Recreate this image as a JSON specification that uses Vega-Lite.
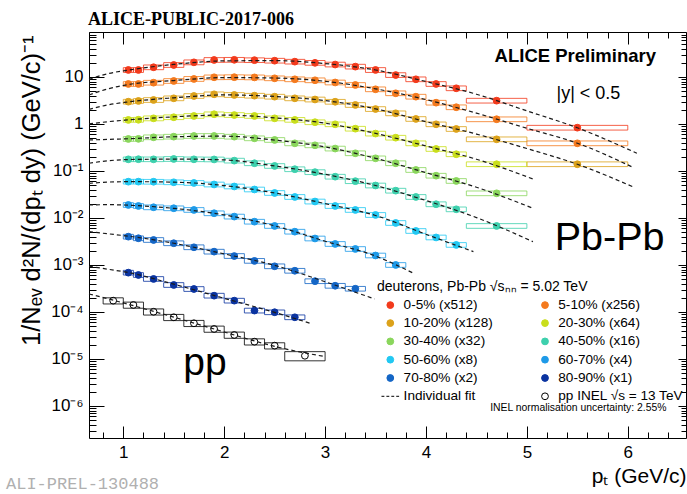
{
  "$schema": "https://vega.github.io/schema/vega-lite/v6.json",
  "width": 597,
  "height": 406,
  "autosize": {"type": "none"},
  "padding": {"left": 89, "top": 32, "right": 1, "bottom": 56},
  "background": "white",
  "title": {"text": "ALICE-PUBLIC-2017-006", "anchor": "start", "frame": "group", "font": "Liberation Serif", "fontSize": 18, "fontWeight": "bold", "color": "black", "offset": 3, "dx": -1},
  "config": {
    "view": {"stroke": "black", "strokeWidth": 1},
    "axis": {"grid": false, "domain": false, "tickColor": "black", "tickWidth": 1, "labelColor": "black", "labelFont": "Liberation Sans", "titleFont": "Liberation Sans", "titleColor": "black", "titleFontWeight": "normal", "labelOverlap": false, "labelFlush": false, "labelBound": false},
    "legend": {"orient": "none", "legendX": 288, "legendY": 248, "direction": "horizontal", "columns": 2, "columnPadding": 38.7, "rowPadding": 3.3, "padding": 0,
               "labelFont": "Liberation Sans", "labelFontSize": 13.6, "labelColor": "black", "titleFont": "Liberation Sans", "titleFontSize": 14, "titleFontWeight": "normal", "titleColor": "black", "titlePadding": 4,
               "titleLimit": 400, "labelLimit": 300, "symbolSize": 46, "symbolStrokeWidth": 1, "symbolOffset": 6.5, "labelOffset": 6.5},
    "text": {"font": "Liberation Sans", "color": "black"}
  },
  "datasets": {
    "pts": [
      {"c":"0-5% (x512)","pt":1.05,"x0":1.0,"x1":1.1,"v":14.1,"lo":12.5,"hi":15.8},
      {"c":"0-5% (x512)","pt":1.15,"x0":1.1,"x1":1.2,"v":14.1,"lo":12.5,"hi":15.8},
      {"c":"0-5% (x512)","pt":1.3,"x0":1.2,"x1":1.4,"v":16.1,"lo":14.3,"hi":18.0},
      {"c":"0-5% (x512)","pt":1.5,"x0":1.4,"x1":1.6,"v":18.0,"lo":16.0,"hi":20.2},
      {"c":"0-5% (x512)","pt":1.7,"x0":1.6,"x1":1.8,"v":20.5,"lo":18.2,"hi":23.0},
      {"c":"0-5% (x512)","pt":1.9,"x0":1.8,"x1":2.0,"v":23.0,"lo":20.5,"hi":25.8},
      {"c":"0-5% (x512)","pt":2.1,"x0":2.0,"x1":2.2,"v":23.2,"lo":20.6,"hi":26.0},
      {"c":"0-5% (x512)","pt":2.3,"x0":2.2,"x1":2.4,"v":22.8,"lo":20.3,"hi":25.5},
      {"c":"0-5% (x512)","pt":2.5,"x0":2.4,"x1":2.6,"v":22.2,"lo":19.8,"hi":24.9},
      {"c":"0-5% (x512)","pt":2.7,"x0":2.6,"x1":2.8,"v":21.2,"lo":18.9,"hi":23.7},
      {"c":"0-5% (x512)","pt":2.9,"x0":2.8,"x1":3.0,"v":20.0,"lo":17.8,"hi":22.4},
      {"c":"0-5% (x512)","pt":3.1,"x0":3.0,"x1":3.2,"v":18.4,"lo":16.4,"hi":20.6},
      {"c":"0-5% (x512)","pt":3.3,"x0":3.2,"x1":3.4,"v":16.6,"lo":14.8,"hi":18.6},
      {"c":"0-5% (x512)","pt":3.5,"x0":3.4,"x1":3.6,"v":14.1,"lo":12.5,"hi":15.8},
      {"c":"0-5% (x512)","pt":3.7,"x0":3.6,"x1":3.8,"v":11.0,"lo":9.79,"hi":12.3},
      {"c":"0-5% (x512)","pt":3.9,"x0":3.8,"x1":4.0,"v":8.93,"lo":7.95,"hi":10.0},
      {"c":"0-5% (x512)","pt":4.1,"x0":4.0,"x1":4.2,"v":7.10,"lo":6.32,"hi":7.95},
      {"c":"0-5% (x512)","pt":4.3,"x0":4.2,"x1":4.4,"v":5.75,"lo":5.12,"hi":6.44},
      {"c":"0-5% (x512)","pt":4.7,"x0":4.4,"x1":5.0,"v":3.13,"lo":2.79,"hi":3.51},
      {"c":"0-5% (x512)","pt":5.5,"x0":5.0,"x1":6.0,"v":0.834,"lo":0.742,"hi":0.934},

      {"c":"5-10% (x256)","pt":1.05,"x0":1.0,"x1":1.1,"v":7.10,"lo":6.32,"hi":7.95},
      {"c":"5-10% (x256)","pt":1.15,"x0":1.1,"x1":1.2,"v":7.10,"lo":6.32,"hi":7.95},
      {"c":"5-10% (x256)","pt":1.3,"x0":1.2,"x1":1.4,"v":7.56,"lo":6.73,"hi":8.47},
      {"c":"5-10% (x256)","pt":1.5,"x0":1.4,"x1":1.6,"v":8.22,"lo":7.32,"hi":9.21},
      {"c":"5-10% (x256)","pt":1.7,"x0":1.6,"x1":1.8,"v":9.07,"lo":8.07,"hi":10.2},
      {"c":"5-10% (x256)","pt":1.9,"x0":1.8,"x1":2.0,"v":9.86,"lo":8.78,"hi":11.0},
      {"c":"5-10% (x256)","pt":2.1,"x0":2.0,"x1":2.2,"v":9.90,"lo":8.81,"hi":11.1},
      {"c":"5-10% (x256)","pt":2.3,"x0":2.2,"x1":2.4,"v":9.80,"lo":8.72,"hi":11.0},
      {"c":"5-10% (x256)","pt":2.5,"x0":2.4,"x1":2.6,"v":9.38,"lo":8.35,"hi":10.5},
      {"c":"5-10% (x256)","pt":2.7,"x0":2.6,"x1":2.8,"v":8.93,"lo":7.95,"hi":10.0},
      {"c":"5-10% (x256)","pt":2.9,"x0":2.8,"x1":3.0,"v":8.51,"lo":7.57,"hi":9.53},
      {"c":"5-10% (x256)","pt":3.1,"x0":3.0,"x1":3.2,"v":7.64,"lo":6.80,"hi":8.56},
      {"c":"5-10% (x256)","pt":3.3,"x0":3.2,"x1":3.4,"v":6.76,"lo":6.02,"hi":7.57},
      {"c":"5-10% (x256)","pt":3.5,"x0":3.4,"x1":3.6,"v":5.47,"lo":4.87,"hi":6.13},
      {"c":"5-10% (x256)","pt":3.7,"x0":3.6,"x1":3.8,"v":4.50,"lo":4.01,"hi":5.04},
      {"c":"5-10% (x256)","pt":3.9,"x0":3.8,"x1":4.0,"v":3.81,"lo":3.39,"hi":4.27},
      {"c":"5-10% (x256)","pt":4.1,"x0":4.0,"x1":4.2,"v":2.84,"lo":2.53,"hi":3.18},
      {"c":"5-10% (x256)","pt":4.3,"x0":4.2,"x1":4.4,"v":2.27,"lo":2.02,"hi":2.54},
      {"c":"5-10% (x256)","pt":4.7,"x0":4.4,"x1":5.0,"v":1.26,"lo":1.12,"hi":1.41},
      {"c":"5-10% (x256)","pt":5.5,"x0":5.0,"x1":6.0,"v":0.388,"lo":0.345,"hi":0.435},

      {"c":"10-20% (x128)","pt":1.05,"x0":1.0,"x1":1.1,"v":2.98,"lo":2.65,"hi":3.34},
      {"c":"10-20% (x128)","pt":1.15,"x0":1.1,"x1":1.2,"v":3.09,"lo":2.75,"hi":3.46},
      {"c":"10-20% (x128)","pt":1.3,"x0":1.2,"x1":1.4,"v":3.24,"lo":2.88,"hi":3.63},
      {"c":"10-20% (x128)","pt":1.5,"x0":1.4,"x1":1.6,"v":3.52,"lo":3.13,"hi":3.94},
      {"c":"10-20% (x128)","pt":1.7,"x0":1.6,"x1":1.8,"v":3.94,"lo":3.51,"hi":4.41},
      {"c":"10-20% (x128)","pt":1.9,"x0":1.8,"x1":2.0,"v":4.28,"lo":3.81,"hi":4.79},
      {"c":"10-20% (x128)","pt":2.1,"x0":2.0,"x1":2.2,"v":4.14,"lo":3.68,"hi":4.64},
      {"c":"10-20% (x128)","pt":2.3,"x0":2.2,"x1":2.4,"v":4.00,"lo":3.56,"hi":4.48},
      {"c":"10-20% (x128)","pt":2.5,"x0":2.4,"x1":2.6,"v":3.81,"lo":3.39,"hi":4.27},
      {"c":"10-20% (x128)","pt":2.7,"x0":2.6,"x1":2.8,"v":3.52,"lo":3.13,"hi":3.94},
      {"c":"10-20% (x128)","pt":2.9,"x0":2.8,"x1":3.0,"v":3.32,"lo":2.95,"hi":3.72},
      {"c":"10-20% (x128)","pt":3.1,"x0":3.0,"x1":3.2,"v":2.97,"lo":2.64,"hi":3.33},
      {"c":"10-20% (x128)","pt":3.3,"x0":3.2,"x1":3.4,"v":2.54,"lo":2.26,"hi":2.84},
      {"c":"10-20% (x128)","pt":3.5,"x0":3.4,"x1":3.6,"v":2.08,"lo":1.85,"hi":2.33},
      {"c":"10-20% (x128)","pt":3.7,"x0":3.6,"x1":3.8,"v":1.69,"lo":1.50,"hi":1.89},
      {"c":"10-20% (x128)","pt":3.9,"x0":3.8,"x1":4.0,"v":1.28,"lo":1.14,"hi":1.43},
      {"c":"10-20% (x128)","pt":4.1,"x0":4.0,"x1":4.2,"v":0.985,"lo":0.877,"hi":1.10},
      {"c":"10-20% (x128)","pt":4.3,"x0":4.2,"x1":4.4,"v":0.783,"lo":0.697,"hi":0.877},
      {"c":"10-20% (x128)","pt":4.7,"x0":4.4,"x1":5.0,"v":0.472,"lo":0.420,"hi":0.529},
      {"c":"10-20% (x128)","pt":5.5,"x0":5.0,"x1":6.0,"v":0.139,"lo":0.124,"hi":0.156},

      {"c":"20-30% (x64)","pt":1.05,"x0":1.0,"x1":1.1,"v":1.22,"lo":1.09,"hi":1.37},
      {"c":"20-30% (x64)","pt":1.15,"x0":1.1,"x1":1.2,"v":1.23,"lo":1.09,"hi":1.38},
      {"c":"20-30% (x64)","pt":1.3,"x0":1.2,"x1":1.4,"v":1.32,"lo":1.17,"hi":1.48},
      {"c":"20-30% (x64)","pt":1.5,"x0":1.4,"x1":1.6,"v":1.39,"lo":1.24,"hi":1.56},
      {"c":"20-30% (x64)","pt":1.7,"x0":1.6,"x1":1.8,"v":1.48,"lo":1.32,"hi":1.66},
      {"c":"20-30% (x64)","pt":1.9,"x0":1.8,"x1":2.0,"v":1.61,"lo":1.43,"hi":1.80},
      {"c":"20-30% (x64)","pt":2.1,"x0":2.0,"x1":2.2,"v":1.55,"lo":1.38,"hi":1.74},
      {"c":"20-30% (x64)","pt":2.3,"x0":2.2,"x1":2.4,"v":1.48,"lo":1.32,"hi":1.66},
      {"c":"20-30% (x64)","pt":2.5,"x0":2.4,"x1":2.6,"v":1.32,"lo":1.17,"hi":1.48},
      {"c":"20-30% (x64)","pt":2.7,"x0":2.6,"x1":2.8,"v":1.22,"lo":1.09,"hi":1.37},
      {"c":"20-30% (x64)","pt":2.9,"x0":2.8,"x1":3.0,"v":1.09,"lo":0.970,"hi":1.22},
      {"c":"20-30% (x64)","pt":3.1,"x0":3.0,"x1":3.2,"v":0.985,"lo":0.877,"hi":1.10},
      {"c":"20-30% (x64)","pt":3.3,"x0":3.2,"x1":3.4,"v":0.794,"lo":0.707,"hi":0.889},
      {"c":"20-30% (x64)","pt":3.5,"x0":3.4,"x1":3.6,"v":0.625,"lo":0.556,"hi":0.700},
      {"c":"20-30% (x64)","pt":3.7,"x0":3.6,"x1":3.8,"v":0.511,"lo":0.455,"hi":0.572},
      {"c":"20-30% (x64)","pt":3.9,"x0":3.8,"x1":4.0,"v":0.388,"lo":0.345,"hi":0.435},
      {"c":"20-30% (x64)","pt":4.1,"x0":4.0,"x1":4.2,"v":0.294,"lo":0.262,"hi":0.329},
      {"c":"20-30% (x64)","pt":4.3,"x0":4.2,"x1":4.4,"v":0.227,"lo":0.202,"hi":0.254},
      {"c":"20-30% (x64)","pt":4.7,"x0":4.4,"x1":5.0,"v":0.139,"lo":0.124,"hi":0.156},

      {"c":"30-40% (x32)","pt":1.05,"x0":1.0,"x1":1.1,"v":0.480,"lo":0.427,"hi":0.538},
      {"c":"30-40% (x32)","pt":1.15,"x0":1.1,"x1":1.2,"v":0.482,"lo":0.429,"hi":0.540},
      {"c":"30-40% (x32)","pt":1.3,"x0":1.2,"x1":1.4,"v":0.521,"lo":0.464,"hi":0.584},
      {"c":"30-40% (x32)","pt":1.5,"x0":1.4,"x1":1.6,"v":0.537,"lo":0.478,"hi":0.601},
      {"c":"30-40% (x32)","pt":1.7,"x0":1.6,"x1":1.8,"v":0.555,"lo":0.494,"hi":0.622},
      {"c":"30-40% (x32)","pt":1.9,"x0":1.8,"x1":2.0,"v":0.556,"lo":0.495,"hi":0.623},
      {"c":"30-40% (x32)","pt":2.1,"x0":2.0,"x1":2.2,"v":0.537,"lo":0.478,"hi":0.601},
      {"c":"30-40% (x32)","pt":2.3,"x0":2.2,"x1":2.4,"v":0.496,"lo":0.441,"hi":0.556},
      {"c":"30-40% (x32)","pt":2.5,"x0":2.4,"x1":2.6,"v":0.457,"lo":0.407,"hi":0.512},
      {"c":"30-40% (x32)","pt":2.7,"x0":2.6,"x1":2.8,"v":0.388,"lo":0.345,"hi":0.435},
      {"c":"30-40% (x32)","pt":2.9,"x0":2.8,"x1":3.0,"v":0.352,"lo":0.313,"hi":0.394},
      {"c":"30-40% (x32)","pt":3.1,"x0":3.0,"x1":3.2,"v":0.300,"lo":0.267,"hi":0.336},
      {"c":"30-40% (x32)","pt":3.3,"x0":3.2,"x1":3.4,"v":0.238,"lo":0.212,"hi":0.267},
      {"c":"30-40% (x32)","pt":3.5,"x0":3.4,"x1":3.6,"v":0.186,"lo":0.166,"hi":0.208},
      {"c":"30-40% (x32)","pt":3.7,"x0":3.6,"x1":3.8,"v":0.146,"lo":0.130,"hi":0.164},
      {"c":"30-40% (x32)","pt":3.9,"x0":3.8,"x1":4.0,"v":0.105,"lo":0.0935,"hi":0.118},
      {"c":"30-40% (x32)","pt":4.1,"x0":4.0,"x1":4.2,"v":0.0794,"lo":0.0707,"hi":0.0889},
      {"c":"30-40% (x32)","pt":4.3,"x0":4.2,"x1":4.4,"v":0.0613,"lo":0.0546,"hi":0.0687},
      {"c":"30-40% (x32)","pt":4.7,"x0":4.4,"x1":5.0,"v":0.0335,"lo":0.0298,"hi":0.0375},

      {"c":"40-50% (x16)","pt":1.05,"x0":1.0,"x1":1.1,"v":0.177,"lo":0.158,"hi":0.198},
      {"c":"40-50% (x16)","pt":1.15,"x0":1.1,"x1":1.2,"v":0.178,"lo":0.158,"hi":0.199},
      {"c":"40-50% (x16)","pt":1.3,"x0":1.2,"x1":1.4,"v":0.177,"lo":0.158,"hi":0.198},
      {"c":"40-50% (x16)","pt":1.5,"x0":1.4,"x1":1.6,"v":0.180,"lo":0.160,"hi":0.202},
      {"c":"40-50% (x16)","pt":1.7,"x0":1.6,"x1":1.8,"v":0.177,"lo":0.158,"hi":0.198},
      {"c":"40-50% (x16)","pt":1.9,"x0":1.8,"x1":2.0,"v":0.176,"lo":0.157,"hi":0.197},
      {"c":"40-50% (x16)","pt":2.1,"x0":2.0,"x1":2.2,"v":0.166,"lo":0.148,"hi":0.186},
      {"c":"40-50% (x16)","pt":2.3,"x0":2.2,"x1":2.4,"v":0.146,"lo":0.130,"hi":0.164},
      {"c":"40-50% (x16)","pt":2.5,"x0":2.4,"x1":2.6,"v":0.128,"lo":0.114,"hi":0.143},
      {"c":"40-50% (x16)","pt":2.7,"x0":2.6,"x1":2.8,"v":0.109,"lo":0.0970,"hi":0.122},
      {"c":"40-50% (x16)","pt":2.9,"x0":2.8,"x1":3.0,"v":0.0943,"lo":0.0839,"hi":0.106},
      {"c":"40-50% (x16)","pt":3.1,"x0":3.0,"x1":3.2,"v":0.0756,"lo":0.0673,"hi":0.0847},
      {"c":"40-50% (x16)","pt":3.3,"x0":3.2,"x1":3.4,"v":0.0607,"lo":0.0540,"hi":0.0680},
      {"c":"40-50% (x16)","pt":3.5,"x0":3.4,"x1":3.6,"v":0.0491,"lo":0.0437,"hi":0.0550},
      {"c":"40-50% (x16)","pt":3.7,"x0":3.6,"x1":3.8,"v":0.0381,"lo":0.0339,"hi":0.0427},
      {"c":"40-50% (x16)","pt":3.9,"x0":3.8,"x1":4.0,"v":0.0280,"lo":0.0249,"hi":0.0314},
      {"c":"40-50% (x16)","pt":4.1,"x0":4.0,"x1":4.2,"v":0.0196,"lo":0.0174,"hi":0.0220},
      {"c":"40-50% (x16)","pt":4.3,"x0":4.2,"x1":4.4,"v":0.0153,"lo":0.0136,"hi":0.0171},
      {"c":"40-50% (x16)","pt":4.7,"x0":4.4,"x1":5.0,"v":0.00676,"lo":0.00602,"hi":0.00757},

      {"c":"50-60% (x8)","pt":1.05,"x0":1.0,"x1":1.1,"v":0.0592,"lo":0.0527,"hi":0.0663},
      {"c":"50-60% (x8)","pt":1.15,"x0":1.1,"x1":1.2,"v":0.0593,"lo":0.0528,"hi":0.0664},
      {"c":"50-60% (x8)","pt":1.3,"x0":1.2,"x1":1.4,"v":0.0590,"lo":0.0525,"hi":0.0661},
      {"c":"50-60% (x8)","pt":1.5,"x0":1.4,"x1":1.6,"v":0.0575,"lo":0.0512,"hi":0.0644},
      {"c":"50-60% (x8)","pt":1.7,"x0":1.6,"x1":1.8,"v":0.0556,"lo":0.0495,"hi":0.0623},
      {"c":"50-60% (x8)","pt":1.9,"x0":1.8,"x1":2.0,"v":0.0516,"lo":0.0459,"hi":0.0578},
      {"c":"50-60% (x8)","pt":2.1,"x0":2.0,"x1":2.2,"v":0.0468,"lo":0.0417,"hi":0.0524},
      {"c":"50-60% (x8)","pt":2.3,"x0":2.2,"x1":2.4,"v":0.0404,"lo":0.0360,"hi":0.0452},
      {"c":"50-60% (x8)","pt":2.5,"x0":2.4,"x1":2.6,"v":0.0340,"lo":0.0303,"hi":0.0381},
      {"c":"50-60% (x8)","pt":2.7,"x0":2.6,"x1":2.8,"v":0.0280,"lo":0.0249,"hi":0.0314},
      {"c":"50-60% (x8)","pt":2.9,"x0":2.8,"x1":3.0,"v":0.0224,"lo":0.0199,"hi":0.0251},
      {"c":"50-60% (x8)","pt":3.1,"x0":3.0,"x1":3.2,"v":0.0180,"lo":0.0160,"hi":0.0202},
      {"c":"50-60% (x8)","pt":3.3,"x0":3.2,"x1":3.4,"v":0.0148,"lo":0.0132,"hi":0.0166},
      {"c":"50-60% (x8)","pt":3.5,"x0":3.4,"x1":3.6,"v":0.0116,"lo":0.0103,"hi":0.0130},
      {"c":"50-60% (x8)","pt":3.7,"x0":3.6,"x1":3.8,"v":0.00783,"lo":0.00697,"hi":0.00877},
      {"c":"50-60% (x8)","pt":3.9,"x0":3.8,"x1":4.0,"v":0.00529,"lo":0.00471,"hi":0.00592},
      {"c":"50-60% (x8)","pt":4.1,"x0":4.0,"x1":4.2,"v":0.00385,"lo":0.00343,"hi":0.00431},
      {"c":"50-60% (x8)","pt":4.3,"x0":4.2,"x1":4.4,"v":0.00267,"lo":0.00238,"hi":0.00299},

      {"c":"60-70% (x4)","pt":1.05,"x0":1.0,"x1":1.1,"v":0.0189,"lo":0.0168,"hi":0.0212},
      {"c":"60-70% (x4)","pt":1.15,"x0":1.1,"x1":1.2,"v":0.0180,"lo":0.0160,"hi":0.0202},
      {"c":"60-70% (x4)","pt":1.3,"x0":1.2,"x1":1.4,"v":0.0169,"lo":0.0150,"hi":0.0189},
      {"c":"60-70% (x4)","pt":1.5,"x0":1.4,"x1":1.6,"v":0.0161,"lo":0.0143,"hi":0.0180},
      {"c":"60-70% (x4)","pt":1.7,"x0":1.6,"x1":1.8,"v":0.0148,"lo":0.0132,"hi":0.0166},
      {"c":"60-70% (x4)","pt":1.9,"x0":1.8,"x1":2.0,"v":0.0126,"lo":0.0112,"hi":0.0141},
      {"c":"60-70% (x4)","pt":2.1,"x0":2.0,"x1":2.2,"v":0.0107,"lo":0.00952,"hi":0.0120},
      {"c":"60-70% (x4)","pt":2.3,"x0":2.2,"x1":2.4,"v":0.00834,"lo":0.00742,"hi":0.00934},
      {"c":"60-70% (x4)","pt":2.5,"x0":2.4,"x1":2.6,"v":0.00676,"lo":0.00602,"hi":0.00757},
      {"c":"60-70% (x4)","pt":2.7,"x0":2.6,"x1":2.8,"v":0.00511,"lo":0.00455,"hi":0.00572},
      {"c":"60-70% (x4)","pt":2.9,"x0":2.8,"x1":3.0,"v":0.00366,"lo":0.00326,"hi":0.00410},
      {"c":"60-70% (x4)","pt":3.1,"x0":3.0,"x1":3.2,"v":0.00280,"lo":0.00249,"hi":0.00314},
      {"c":"60-70% (x4)","pt":3.3,"x0":3.2,"x1":3.4,"v":0.00219,"lo":0.00195,"hi":0.00245},
      {"c":"60-70% (x4)","pt":3.5,"x0":3.4,"x1":3.6,"v":0.00159,"lo":0.00142,"hi":0.00178},
      {"c":"60-70% (x4)","pt":3.7,"x0":3.6,"x1":3.8,"v":0.00100,"lo":0.000890,"hi":0.00112},

      {"c":"70-80% (x2)","pt":1.05,"x0":1.0,"x1":1.1,"v":0.00400,"lo":0.00356,"hi":0.00448},
      {"c":"70-80% (x2)","pt":1.15,"x0":1.1,"x1":1.2,"v":0.00370,"lo":0.00329,"hi":0.00414},
      {"c":"70-80% (x2)","pt":1.3,"x0":1.2,"x1":1.4,"v":0.00340,"lo":0.00303,"hi":0.00381},
      {"c":"70-80% (x2)","pt":1.5,"x0":1.4,"x1":1.6,"v":0.00290,"lo":0.00258,"hi":0.00325},
      {"c":"70-80% (x2)","pt":1.7,"x0":1.6,"x1":1.8,"v":0.00238,"lo":0.00212,"hi":0.00267},
      {"c":"70-80% (x2)","pt":1.9,"x0":1.8,"x1":2.0,"v":0.00192,"lo":0.00171,"hi":0.00215},
      {"c":"70-80% (x2)","pt":2.1,"x0":2.0,"x1":2.2,"v":0.00155,"lo":0.00138,"hi":0.00174},
      {"c":"70-80% (x2)","pt":2.3,"x0":2.2,"x1":2.4,"v":0.00122,"lo":0.00109,"hi":0.00137},
      {"c":"70-80% (x2)","pt":2.5,"x0":2.4,"x1":2.6,"v":0.000938,"lo":0.000835,"hi":0.00105},
      {"c":"70-80% (x2)","pt":2.7,"x0":2.6,"x1":2.8,"v":0.000753,"lo":0.000670,"hi":0.000843},
      {"c":"70-80% (x2)","pt":2.9,"x0":2.8,"x1":3.0,"v":0.000452,"lo":0.000402,"hi":0.000506},
      {"c":"70-80% (x2)","pt":3.1,"x0":3.0,"x1":3.2,"v":0.000361,"lo":0.000321,"hi":0.000404},
      {"c":"70-80% (x2)","pt":3.3,"x0":3.2,"x1":3.4,"v":0.000312,"lo":0.000278,"hi":0.000349},

      {"c":"80-90% (x1)","pt":1.05,"x0":1.0,"x1":1.1,"v":0.000686,"lo":0.000611,"hi":0.000768},
      {"c":"80-90% (x1)","pt":1.15,"x0":1.1,"x1":1.2,"v":0.000612,"lo":0.000545,"hi":0.000685},
      {"c":"80-90% (x1)","pt":1.3,"x0":1.2,"x1":1.4,"v":0.000504,"lo":0.000449,"hi":0.000564},
      {"c":"80-90% (x1)","pt":1.5,"x0":1.4,"x1":1.6,"v":0.000375,"lo":0.000334,"hi":0.000420},
      {"c":"80-90% (x1)","pt":1.7,"x0":1.6,"x1":1.8,"v":0.000308,"lo":0.000274,"hi":0.000345},
      {"c":"80-90% (x1)","pt":1.9,"x0":1.8,"x1":2.0,"v":0.000222,"lo":0.000198,"hi":0.000249},
      {"c":"80-90% (x1)","pt":2.1,"x0":2.0,"x1":2.2,"v":0.000174,"lo":0.000155,"hi":0.000195},
      {"c":"80-90% (x1)","pt":2.3,"x0":2.2,"x1":2.4,"v":0.000107,"lo":0.0000952,"hi":0.000120},
      {"c":"80-90% (x1)","pt":2.5,"x0":2.4,"x1":2.6,"v":0.0000986,"lo":0.0000878,"hi":0.000110},
      {"c":"80-90% (x1)","pt":2.7,"x0":2.6,"x1":2.8,"v":0.0000771,"lo":0.0000686,"hi":0.0000864},

      {"c":"pp INEL √s = 13 TeV","pt":0.9,"x0":0.8,"x1":1.0,"v":0.000174,"lo":0.000148,"hi":0.000200},
      {"c":"pp INEL √s = 13 TeV","pt":1.1,"x0":1.0,"x1":1.2,"v":0.000141,"lo":0.000120,"hi":0.000162},
      {"c":"pp INEL √s = 13 TeV","pt":1.3,"x0":1.2,"x1":1.4,"v":0.000101,"lo":0.0000859,"hi":0.000116},
      {"c":"pp INEL √s = 13 TeV","pt":1.5,"x0":1.4,"x1":1.6,"v":0.0000771,"lo":0.0000655,"hi":0.0000887},
      {"c":"pp INEL √s = 13 TeV","pt":1.7,"x0":1.6,"x1":1.8,"v":0.0000575,"lo":0.0000489,"hi":0.0000661},
      {"c":"pp INEL √s = 13 TeV","pt":1.9,"x0":1.8,"x1":2.0,"v":0.0000435,"lo":0.0000370,"hi":0.0000500},
      {"c":"pp INEL √s = 13 TeV","pt":2.1,"x0":2.0,"x1":2.2,"v":0.0000324,"lo":0.0000275,"hi":0.0000373},
      {"c":"pp INEL √s = 13 TeV","pt":2.3,"x0":2.2,"x1":2.4,"v":0.0000233,"lo":0.0000198,"hi":0.0000268},
      {"c":"pp INEL √s = 13 TeV","pt":2.5,"x0":2.4,"x1":2.6,"v":0.0000192,"lo":0.0000163,"hi":0.0000221},
      {"c":"pp INEL √s = 13 TeV","pt":2.8,"x0":2.6,"x1":3.0,"v":0.0000117,"lo":0.00000913,"hi":0.0000143}
    ],
    "fit": [
      {"c":"0-5% (x512)","pt":0.66,"v":8.93},{"c":"0-5% (x512)","pt":0.85,"v":11.8},{"c":"0-5% (x512)","pt":1.05,"v":14.0},{"c":"0-5% (x512)","pt":1.5,"v":18.5},{"c":"0-5% (x512)","pt":2.0,"v":22.0},{"c":"0-5% (x512)","pt":2.5,"v":22.3},{"c":"0-5% (x512)","pt":3.0,"v":19.3},{"c":"0-5% (x512)","pt":3.5,"v":14.1},{"c":"0-5% (x512)","pt":4.0,"v":8.0},{"c":"0-5% (x512)","pt":4.5,"v":4.3},{"c":"0-5% (x512)","pt":5.0,"v":1.9},{"c":"0-5% (x512)","pt":5.5,"v":0.83},{"c":"0-5% (x512)","pt":6.09,"v":0.238},
      {"c":"5-10% (x256)","pt":0.66,"v":4.14},{"c":"5-10% (x256)","pt":0.85,"v":5.6},{"c":"5-10% (x256)","pt":1.05,"v":6.9},{"c":"5-10% (x256)","pt":1.5,"v":8.4},{"c":"5-10% (x256)","pt":2.0,"v":9.7},{"c":"5-10% (x256)","pt":2.5,"v":9.5},{"c":"5-10% (x256)","pt":3.0,"v":8.1},{"c":"5-10% (x256)","pt":3.5,"v":5.6},{"c":"5-10% (x256)","pt":4.0,"v":3.3},{"c":"5-10% (x256)","pt":4.5,"v":1.7},{"c":"5-10% (x256)","pt":5.0,"v":0.81},{"c":"5-10% (x256)","pt":5.5,"v":0.39},{"c":"5-10% (x256)","pt":6.05,"v":0.12},
      {"c":"10-20% (x128)","pt":0.66,"v":2.05},{"c":"10-20% (x128)","pt":0.85,"v":2.55},{"c":"10-20% (x128)","pt":1.05,"v":2.95},{"c":"10-20% (x128)","pt":1.5,"v":3.6},{"c":"10-20% (x128)","pt":2.0,"v":4.15},{"c":"10-20% (x128)","pt":2.5,"v":3.85},{"c":"10-20% (x128)","pt":3.0,"v":3.15},{"c":"10-20% (x128)","pt":3.5,"v":2.1},{"c":"10-20% (x128)","pt":4.0,"v":1.12},{"c":"10-20% (x128)","pt":4.5,"v":0.61},{"c":"10-20% (x128)","pt":5.0,"v":0.30},{"c":"10-20% (x128)","pt":5.5,"v":0.139},{"c":"10-20% (x128)","pt":6.05,"v":0.0463},
      {"c":"20-30% (x64)","pt":0.66,"v":1.0},{"c":"20-30% (x64)","pt":0.85,"v":1.12},{"c":"20-30% (x64)","pt":1.05,"v":1.22},{"c":"20-30% (x64)","pt":1.5,"v":1.42},{"c":"20-30% (x64)","pt":2.0,"v":1.55},{"c":"20-30% (x64)","pt":2.5,"v":1.35},{"c":"20-30% (x64)","pt":3.0,"v":1.04},{"c":"20-30% (x64)","pt":3.5,"v":0.63},{"c":"20-30% (x64)","pt":4.0,"v":0.34},{"c":"20-30% (x64)","pt":4.5,"v":0.178},{"c":"20-30% (x64)","pt":5.06,"v":0.0676},
      {"c":"30-40% (x32)","pt":0.66,"v":0.457},{"c":"30-40% (x32)","pt":0.85,"v":0.47},{"c":"30-40% (x32)","pt":1.05,"v":0.485},{"c":"30-40% (x32)","pt":1.5,"v":0.535},{"c":"30-40% (x32)","pt":2.0,"v":0.55},{"c":"30-40% (x32)","pt":2.5,"v":0.455},{"c":"30-40% (x32)","pt":3.0,"v":0.325},{"c":"30-40% (x32)","pt":3.5,"v":0.186},{"c":"30-40% (x32)","pt":4.0,"v":0.092},{"c":"30-40% (x32)","pt":4.5,"v":0.045},{"c":"30-40% (x32)","pt":5.06,"v":0.0161},
      {"c":"40-50% (x16)","pt":0.66,"v":0.146},{"c":"40-50% (x16)","pt":0.85,"v":0.165},{"c":"40-50% (x16)","pt":1.05,"v":0.175},{"c":"40-50% (x16)","pt":1.5,"v":0.179},{"c":"40-50% (x16)","pt":2.0,"v":0.172},{"c":"40-50% (x16)","pt":2.5,"v":0.128},{"c":"40-50% (x16)","pt":3.0,"v":0.085},{"c":"40-50% (x16)","pt":3.5,"v":0.049},{"c":"40-50% (x16)","pt":4.0,"v":0.0235},{"c":"40-50% (x16)","pt":4.5,"v":0.0102},{"c":"40-50% (x16)","pt":5.06,"v":0.00313},
      {"c":"50-60% (x8)","pt":0.66,"v":0.0547},{"c":"50-60% (x8)","pt":0.85,"v":0.058},{"c":"50-60% (x8)","pt":1.05,"v":0.0592},{"c":"50-60% (x8)","pt":1.5,"v":0.0578},{"c":"50-60% (x8)","pt":2.0,"v":0.049},{"c":"50-60% (x8)","pt":2.5,"v":0.034},{"c":"50-60% (x8)","pt":3.0,"v":0.0202},{"c":"50-60% (x8)","pt":3.5,"v":0.0113},{"c":"50-60% (x8)","pt":4.0,"v":0.0045},{"c":"50-60% (x8)","pt":4.47,"v":0.00192},
      {"c":"60-70% (x4)","pt":0.66,"v":0.0189},{"c":"60-70% (x4)","pt":0.85,"v":0.0192},{"c":"60-70% (x4)","pt":1.05,"v":0.0187},{"c":"60-70% (x4)","pt":1.5,"v":0.016},{"c":"60-70% (x4)","pt":2.0,"v":0.0116},{"c":"60-70% (x4)","pt":2.5,"v":0.0068},{"c":"60-70% (x4)","pt":3.0,"v":0.0032},{"c":"60-70% (x4)","pt":3.5,"v":0.00155},{"c":"60-70% (x4)","pt":3.87,"v":0.000676},
      {"c":"70-80% (x2)","pt":0.66,"v":0.00511},{"c":"70-80% (x2)","pt":0.85,"v":0.0046},{"c":"70-80% (x2)","pt":1.05,"v":0.0041},{"c":"70-80% (x2)","pt":1.5,"v":0.0029},{"c":"70-80% (x2)","pt":2.0,"v":0.00172},{"c":"70-80% (x2)","pt":2.5,"v":0.00098},{"c":"70-80% (x2)","pt":3.0,"v":0.00044},{"c":"70-80% (x2)","pt":3.49,"v":0.000189},
      {"c":"80-90% (x1)","pt":0.66,"v":0.000938},{"c":"80-90% (x1)","pt":0.85,"v":0.00081},{"c":"80-90% (x1)","pt":1.05,"v":0.00069},{"c":"80-90% (x1)","pt":1.5,"v":0.00039},{"c":"80-90% (x1)","pt":2.0,"v":0.000195},{"c":"80-90% (x1)","pt":2.5,"v":0.000098},{"c":"80-90% (x1)","pt":2.85,"v":0.0000575},
      {"c":"pp INEL √s = 13 TeV","pt":0.66,"v":0.000242},{"c":"pp INEL √s = 13 TeV","pt":0.9,"v":0.000178},{"c":"pp INEL √s = 13 TeV","pt":1.5,"v":0.0000775},{"c":"pp INEL √s = 13 TeV","pt":2.0,"v":0.0000375},{"c":"pp INEL √s = 13 TeV","pt":2.5,"v":0.0000185},{"c":"pp INEL √s = 13 TeV","pt":3.0,"v":0.0000112}
    ]
  },
  "resolve": {"axis": {"x": "independent", "y": "independent"}},
  "layer": [
    {
      "data": {"name": "pts"},
      "mark": {"type": "rect", "filled": false, "strokeWidth": 1, "strokeOpacity": 0.8},
      "encoding": {
        "x": {"field": "x0", "type": "quantitative", "scale": {"domain": [0.66, 6.577], "zero": false, "nice": false},
              "axis": {"orient": "bottom", "values": [1, 2, 3, 4, 5, 6], "format": "d", "tickSize": -12, "labelPadding": 18, "labelFontSize": 17,
                       "title": "pₜ (GeV/c)", "titleFontSize": 21, "titleX": 597, "titleY": 38, "titleAlign": "right", "titleBaseline": "middle"}},
        "x2": {"field": "x1"},
        "y": {"field": "lo", "type": "quantitative", "scale": {"type": "log", "domain": [2.08e-7, 90.6], "nice": false},
              "axis": {"orient": "left", "values": [1e-6, 1e-5, 1e-4, 1e-3, 0.01, 0.1, 1, 10], "tickSize": -15, "labelPadding": 21, "labelFontSize": 17,
                       "labelExpr": "datum.value >= 1 ? (datum.value >= 10 ? '10' : '1') : '10' + ['⁻⁶','⁻⁵','⁻⁴','⁻³','⁻²','⁻¹'][round(log(datum.value) / LN10) + 6]",
                       "title": "1/Nₑᵥ d²N/(dpₜ dy) (GeV/c)⁻¹", "titleFontSize": 25.5, "titleAngle": -90, "titleX": -58, "titleY": 3, "titleAlign": "right", "titleBaseline": "middle"}},
        "y2": {"field": "hi"},
        "color": {"field": "c", "type": "nominal",
                  "scale": {"domain": ["0-5% (x512)", "5-10% (x256)", "10-20% (x128)", "20-30% (x64)", "30-40% (x32)", "40-50% (x16)", "50-60% (x8)", "60-70% (x4)", "70-80% (x2)", "80-90% (x1)", "pp INEL √s = 13 TeV"],
                            "range": ["#f23a1c", "#f47a1e", "#dca21a", "#c9de1c", "#8ad65c", "#3dd0ad", "#22c8f2", "#1e9ae8", "#1466c6", "#0a33a0", "black"]},
                  "legend": null}
      }
    },
    {
      "data": {"name": "pts"},
      "mark": {"type": "point", "size": 46, "strokeWidth": 1, "opacity": 1},
      "encoding": {
        "x": {"field": "pt", "type": "quantitative", "scale": {"domain": [0.66, 6.577], "zero": false, "nice": false},
              "axis": {"orient": "top", "values": [1, 2, 3, 4, 5, 6], "tickSize": -12, "labels": false, "title": null}},
        "y": {"field": "v", "type": "quantitative", "scale": {"type": "log", "domain": [2.08e-7, 90.6], "nice": false},
              "axis": {"orient": "right", "values": [1e-6, 1e-5, 1e-4, 1e-3, 0.01, 0.1, 1, 10], "tickSize": -8, "labels": false, "title": null}},
        "fill": {"field": "c", "type": "nominal", "title": "deuterons, Pb-Pb √sₙₙ = 5.02 TeV",
                 "scale": {"domain": ["0-5% (x512)", "5-10% (x256)", "10-20% (x128)", "20-30% (x64)", "30-40% (x32)", "40-50% (x16)", "50-60% (x8)", "60-70% (x4)", "70-80% (x2)", "80-90% (x1)", "Individual fit", "pp INEL √s = 13 TeV"],
                           "range": ["#f23a1c", "#f47a1e", "#dca21a", "#c9de1c", "#8ad65c", "#3dd0ad", "#22c8f2", "#1e9ae8", "#1466c6", "#0a33a0", "transparent", "transparent"]}},
        "stroke": {"field": "c", "type": "nominal", "title": "deuterons, Pb-Pb √sₙₙ = 5.02 TeV",
                   "scale": {"domain": ["0-5% (x512)", "5-10% (x256)", "10-20% (x128)", "20-30% (x64)", "30-40% (x32)", "40-50% (x16)", "50-60% (x8)", "60-70% (x4)", "70-80% (x2)", "80-90% (x1)", "Individual fit", "pp INEL √s = 13 TeV"],
                             "range": ["#f23a1c", "#f47a1e", "#dca21a", "#c9de1c", "#8ad65c", "#3dd0ad", "#22c8f2", "#1e9ae8", "#1466c6", "#0a33a0", "black", "black"]}},
        "shape": {"field": "c", "type": "nominal", "title": "deuterons, Pb-Pb √sₙₙ = 5.02 TeV",
                  "scale": {"domain": ["0-5% (x512)", "5-10% (x256)", "10-20% (x128)", "20-30% (x64)", "30-40% (x32)", "40-50% (x16)", "50-60% (x8)", "60-70% (x4)", "70-80% (x2)", "80-90% (x1)", "Individual fit", "pp INEL √s = 13 TeV"],
                            "range": ["circle", "circle", "circle", "circle", "circle", "circle", "circle", "circle", "circle", "circle", "M-2.6,0H-1.75M-1.15,0H-0.3M0.3,0H1.15M1.75,0H2.6", "circle"]}}
      }
    },
    {
      "data": {"name": "fit"},
      "mark": {"type": "line", "interpolate": "monotone", "stroke": "#1a1a1a", "strokeWidth": 1.2, "strokeDash": [4, 3]},
      "encoding": {
        "x": {"field": "pt", "type": "quantitative", "scale": {"domain": [0.66, 6.577], "zero": false, "nice": false},
              "axis": {"orient": "bottom", "values": [0.8, 1.2, 1.4, 1.6, 1.8, 2.2, 2.4, 2.6, 2.8, 3.2, 3.4, 3.6, 3.8, 4.2, 4.4, 4.6, 4.8, 5.2, 5.4, 5.6, 5.8, 6.2, 6.4], "tickSize": -6, "labels": false, "title": null}},
        "y": {"field": "v", "type": "quantitative", "scale": {"type": "log", "domain": [2.08e-7, 90.6], "nice": false},
              "axis": {"orient": "left", "values": [3e-7, 4e-7, 5e-7, 6e-7, 7e-7, 8e-7, 9e-7, 2e-6, 3e-6, 4e-6, 5e-6, 6e-6, 7e-6, 8e-6, 9e-6, 2e-5, 3e-5, 4e-5, 5e-5, 6e-5, 7e-5, 8e-5, 9e-5, 2e-4, 3e-4, 4e-4, 5e-4, 6e-4, 7e-4, 8e-4, 9e-4, 0.002, 0.003, 0.004, 0.005, 0.006, 0.007, 0.008, 0.009, 0.02, 0.03, 0.04, 0.05, 0.06, 0.07, 0.08, 0.09, 0.2, 0.3, 0.4, 0.5, 0.6, 0.7, 0.8, 0.9, 2, 3, 4, 5, 6, 7, 8, 9, 20, 30, 40, 50, 60, 70, 80, 90], "tickSize": -7, "labels": false, "title": null}},
        "detail": {"field": "c"}
      }
    },
    {
      "data": {"values": [{}]},
      "mark": {"type": "text", "text": "ALICE Preliminary", "fontSize": 18.5, "fontWeight": "bold", "align": "center", "baseline": "alphabetic"},
      "encoding": {
        "x": {"datum": 5.48, "type": "quantitative", "scale": {"domain": [0.66, 6.577], "zero": false, "nice": false},
              "axis": {"orient": "top", "values": [0.8, 1.2, 1.4, 1.6, 1.8, 2.2, 2.4, 2.6, 2.8, 3.2, 3.4, 3.6, 3.8, 4.2, 4.4, 4.6, 4.8, 5.2, 5.4, 5.6, 5.8, 6.2, 6.4], "tickSize": -6, "labels": false, "title": null}},
        "y": {"datum": 20.5, "type": "quantitative", "scale": {"type": "log", "domain": [2.08e-7, 90.6], "nice": false},
              "axis": {"orient": "right", "values": [3e-7, 4e-7, 5e-7, 6e-7, 7e-7, 8e-7, 9e-7, 2e-6, 3e-6, 4e-6, 5e-6, 6e-6, 7e-6, 8e-6, 9e-6, 2e-5, 3e-5, 4e-5, 5e-5, 6e-5, 7e-5, 8e-5, 9e-5, 2e-4, 3e-4, 4e-4, 5e-4, 6e-4, 7e-4, 8e-4, 9e-4, 0.002, 0.003, 0.004, 0.005, 0.006, 0.007, 0.008, 0.009, 0.02, 0.03, 0.04, 0.05, 0.06, 0.07, 0.08, 0.09, 0.2, 0.3, 0.4, 0.5, 0.6, 0.7, 0.8, 0.9, 2, 3, 4, 5, 6, 7, 8, 9, 20, 30, 40, 50, 60, 70, 80, 90], "tickSize": -5, "labels": false, "title": null}}
      }
    },
    {
      "data": {"values": [{}]},
      "mark": {"type": "text", "text": "|y| < 0.5", "fontSize": 18, "align": "center", "baseline": "alphabetic"},
      "encoding": {
        "x": {"datum": 5.61, "type": "quantitative", "scale": {"domain": [0.66, 6.577], "zero": false, "nice": false}, "axis": null},
        "y": {"datum": 3.40, "type": "quantitative", "scale": {"type": "log", "domain": [2.08e-7, 90.6], "nice": false}, "axis": null}
      }
    },
    {
      "data": {"values": [{}]},
      "mark": {"type": "text", "text": "Pb-Pb", "fontSize": 39.5, "align": "center", "baseline": "alphabetic"},
      "encoding": {
        "x": {"datum": 5.82, "type": "quantitative", "scale": {"domain": [0.66, 6.577], "zero": false, "nice": false}, "axis": null},
        "y": {"datum": 0.00208, "type": "quantitative", "scale": {"type": "log", "domain": [2.08e-7, 90.6], "nice": false}, "axis": null}
      }
    },
    {
      "data": {"values": [{}]},
      "mark": {"type": "text", "text": "pp", "fontSize": 39, "align": "center", "baseline": "alphabetic"},
      "encoding": {
        "x": {"datum": 1.81, "type": "quantitative", "scale": {"domain": [0.66, 6.577], "zero": false, "nice": false}, "axis": null},
        "y": {"datum": 4.57e-6, "type": "quantitative", "scale": {"type": "log", "domain": [2.08e-7, 90.6], "nice": false}, "axis": null}
      }
    },
    {
      "data": {"values": [{}]},
      "mark": {"type": "text", "text": "INEL normalisation uncertainty: 2.55%", "fontSize": 10.4, "align": "center", "baseline": "alphabetic"},
      "encoding": {
        "x": {"datum": 5.51, "type": "quantitative", "scale": {"domain": [0.66, 6.577], "zero": false, "nice": false}, "axis": null},
        "y": {"datum": 7.83e-7, "type": "quantitative", "scale": {"type": "log", "domain": [2.08e-7, 90.6], "nice": false}, "axis": null}
      }
    },
    {
      "data": {"values": [{}]},
      "mark": {"type": "text", "text": "ALI-PREL-130488", "font": "Liberation Mono", "fontSize": 17, "color": "#b0b0b0", "align": "left", "baseline": "alphabetic"},
      "encoding": {
        "x": {"datum": -0.1625, "type": "quantitative", "scale": {"domain": [0.66, 6.577], "zero": false, "nice": false}, "axis": null},
        "y": {"datum": 1.7e-8, "type": "quantitative", "scale": {"type": "log", "domain": [2.08e-7, 90.6], "nice": false}, "axis": null}
      }
    }
  ]
}
